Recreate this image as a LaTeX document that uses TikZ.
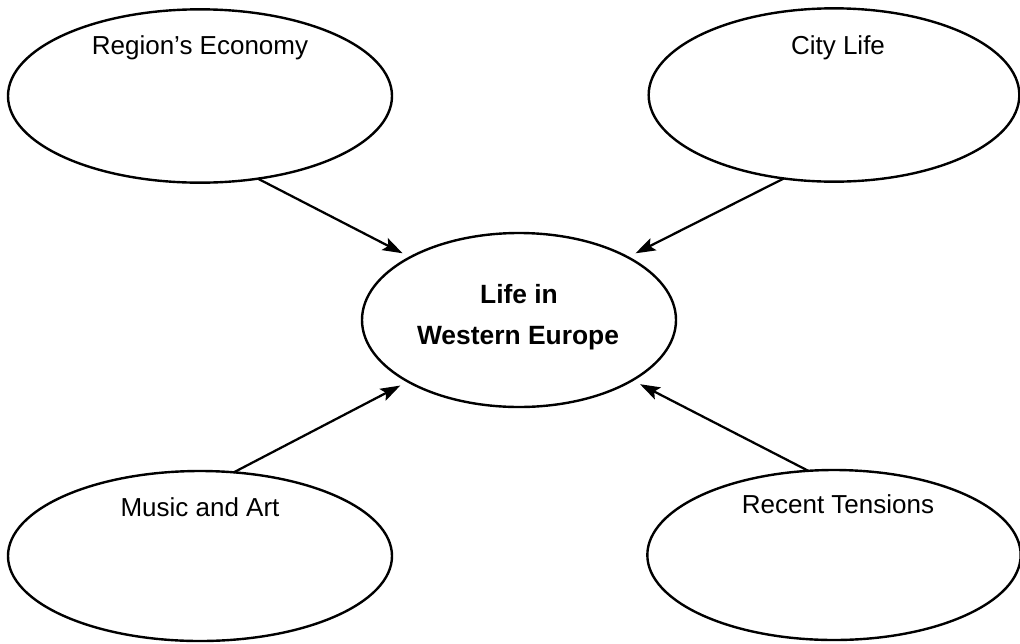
\documentclass[tikz,border=0pt]{standalone}
\usepackage{fontspec}
\setmainfont{Liberation Sans}
\usetikzlibrary{shapes.geometric,arrows.meta}

\begin{document}
\begin{tikzpicture}[x=0.75pt,y=0.75pt,yscale=-1,xscale=1,
  bubble/.style={draw, ellipse, line width=1.8pt, inner sep=0pt, outer sep=0pt},
  feed/.style={line width=1.7pt, -{Stealth[length=15pt,width=10pt,inset=3pt]}, shorten >=6.5pt},
  lbl/.style={anchor=base, inner sep=0pt, font=\fontsize{19.5}{24}\selectfont},
  hub/.style={anchor=base, inner sep=0pt, font=\fontsize{19.8}{24}\selectfont\bfseries}]
%set diagram left start at 0, and has height of 643
\useasboundingbox (0,0) rectangle (1020,643);

%Shape: Ellipse
\draw (200,96) node [bubble, minimum width=288pt, minimum height=130pt] (econ) {};
%Shape: Ellipse
\draw (834,95) node [bubble, minimum width=278pt, minimum height=130pt] (city) {};
%Shape: Ellipse
\draw (519,320) node [bubble, minimum width=235.5pt, minimum height=130.5pt] (life) {};
%Shape: Ellipse
\draw (200,556) node [bubble, minimum width=288pt, minimum height=127.5pt] (music) {};
%Shape: Ellipse
\draw (834,555) node [bubble, minimum width=280pt, minimum height=127.5pt] (tension) {};

%Straight Lines
\draw [feed] (econ.-55) -- (life.150.6);
%Straight Lines
\draw [feed] (city.-121.8) -- (life.30.4);
%Straight Lines
\draw [feed] (music.68.6) -- (life.-151.4);
%Straight Lines
\draw [feed] (tension.107.6) -- (life.-28.5);

% Text Node
\draw (200,54) node [lbl] (econlbl) {Region’s Economy};
% Text Node
\draw (838,54) node [lbl] (citylbl) {City Life};
% Text Node
\draw (519,303) node [hub] (lifelbl) {Life in};
% Text Node
\draw (518,344) node [hub] (lifelblb) {Western Europe};
% Text Node
\draw (200,516) node [lbl] (musiclbl) {Music and Art};
% Text Node
\draw (838,513) node [lbl] (tensionlbl) {Recent Tensions};

\end{tikzpicture}
\end{document}
